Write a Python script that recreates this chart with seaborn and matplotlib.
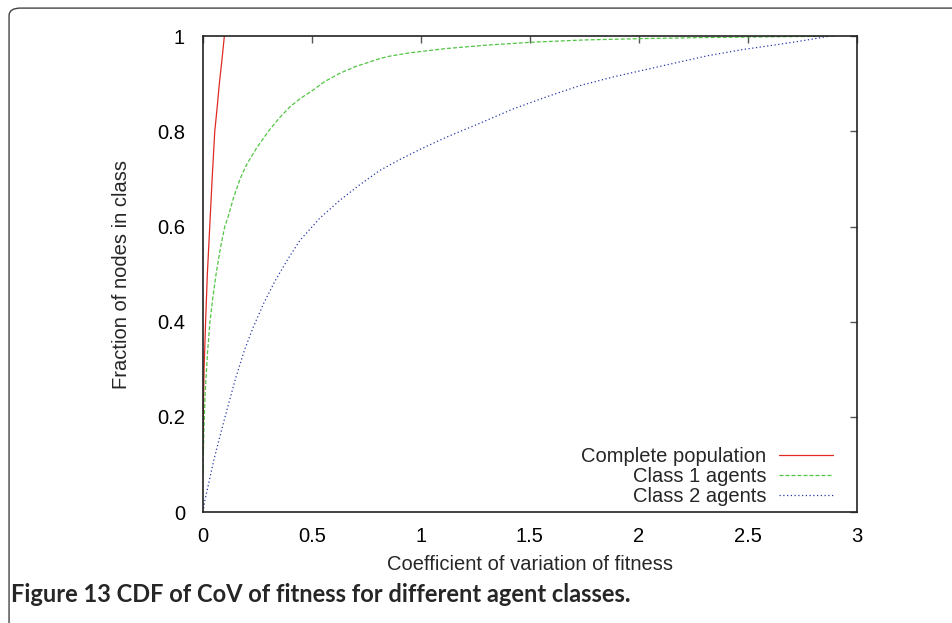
import numpy as np
import pandas as pd
import matplotlib
matplotlib.use("Agg")
import matplotlib.pyplot as plt
from matplotlib.patches import FancyBboxPatch
import seaborn as sns

# ---- data ----
complete_x = [0.0, 0.002, 0.005, 0.012, 0.02, 0.031, 0.042, 0.054, 0.065, 0.075, 0.087, 0.098]
complete_y = [0.12, 0.22, 0.30, 0.40, 0.50, 0.60, 0.70, 0.80, 0.85, 0.90, 0.95, 1.0]

class1_x = [0.0, 0.004, 0.01, 0.02, 0.032, 0.045, 0.06, 0.08, 0.10, 0.115, 0.14, 0.17, 0.20, 0.246, 0.30,
            0.35, 0.40, 0.45, 0.50, 0.56, 0.628, 0.70, 0.812, 0.858, 0.95, 1.118, 1.3, 1.5, 1.75,
            2.035, 2.3, 2.5, 2.7, 2.9]
class1_y = [0.08, 0.17, 0.25, 0.33, 0.40, 0.45, 0.50, 0.555, 0.60, 0.62, 0.66, 0.70, 0.73, 0.765, 0.80,
            0.828, 0.852, 0.87, 0.885, 0.905, 0.922, 0.936, 0.953, 0.958, 0.965, 0.974, 0.981, 0.987, 0.992,
            0.995, 0.997, 0.998, 0.999, 1.0]

class2_x = [0.0, 0.009, 0.05, 0.093, 0.147, 0.19, 0.231, 0.28, 0.33, 0.39, 0.445, 0.537, 0.628, 0.72,
            0.812, 0.9, 1.0, 1.118, 1.25, 1.423, 1.58, 1.729, 1.88, 2.035, 2.18, 2.318, 2.48, 2.647,
            2.76, 2.876]
class2_y = [0.0, 0.025, 0.11, 0.186, 0.277, 0.34, 0.389, 0.44, 0.485, 0.532, 0.571, 0.618, 0.655, 0.688,
            0.718, 0.740, 0.763, 0.788, 0.813, 0.847, 0.873, 0.896, 0.914, 0.930, 0.945, 0.959, 0.972, 0.983,
            0.991, 1.0]

series_labels = ["Complete population", "Class 1 agents", "Class 2 agents"]
x_ticks = [0, 0.5, 1, 1.5, 2, 2.5, 3]
x_ticklabels = ["0", "0.5", "1", "1.5", "2", "2.5", "3"]
y_ticks = [0, 0.2, 0.4, 0.6, 0.8, 1]
y_ticklabels = ["0", "0.2", "0.4", "0.6", "0.8", "1"]

x_label = "Coefficient of variation of fitness"
y_label = "Fraction of nodes in class"
caption = "Figure 13 CDF of CoV of fitness for different agent classes."

# ---- plotting ----
sns.set_style("white")
plt.rcParams["font.family"] = ["Liberation Sans", "DejaVu Sans"]

fig = plt.figure(figsize=(9.53, 6.23), dpi=100)
ax = fig.add_axes([0.213, 0.178, 0.686, 0.764])

colors = ["#e02a22", "#52c444", "#2838a8"]
styles = ["-", (0, (3.2, 1.6)), (0, (1.0, 2.0))]
xs = [complete_x, class1_x, class2_x]
ys = [complete_y, class1_y, class2_y]

for xv, yv, lab, c, ls in zip(xs, ys, series_labels, colors, styles):
    df = pd.DataFrame({"x": xv, "y": yv})
    sns.lineplot(data=df, x="x", y="y", ax=ax, color=c, label=lab,
                 linewidth=0.9, linestyle=ls, sort=False, estimator=None)

FS = 14.5
ax.set_xlim(0, 3)
ax.set_ylim(0, 1)
ax.set_xticks(x_ticks)
ax.set_xticklabels(x_ticklabels)
ax.set_yticks(y_ticks)
ax.set_yticklabels(y_ticklabels)
ax.tick_params(direction="in", length=5, width=1.0, color="#555555",
               top=True, right=True, labelsize=FS, pad=11, labelcolor="black")
ax.tick_params(axis="y", pad=13)
for s in ax.spines.values():
    s.set_visible(True)
    s.set_color("#222222")
    s.set_linewidth(1.2)

ax.set_xlabel(x_label, fontsize=FS, labelpad=6)
ax.set_ylabel(y_label, fontsize=FS, labelpad=19)

leg = ax.legend(loc="lower right", bbox_to_anchor=(0.985, -0.017), frameon=False,
                markerfirst=False, fontsize=FS, handlelength=2.65, handletextpad=0.65,
                labelspacing=0.05, borderaxespad=0.3)
try:
    leg._legend_box._children[1]._children[0].align = "right"
except Exception:
    pass

fig.text(0.012, 0.033, caption, fontsize=17.0, fontweight="bold",
         family=["Lato", "DejaVu Sans"], ha="left", va="baseline")

frame = FancyBboxPatch((0.0095, -0.2), 1.2, 1.187,
                       boxstyle="round,pad=0,rounding_size=0.012",
                       transform=fig.transFigure, fill=False,
                       edgecolor="#444444", linewidth=1.0, clip_on=False)
fig.patches.append(frame)

fig.savefig("out.png", dpi=100)
